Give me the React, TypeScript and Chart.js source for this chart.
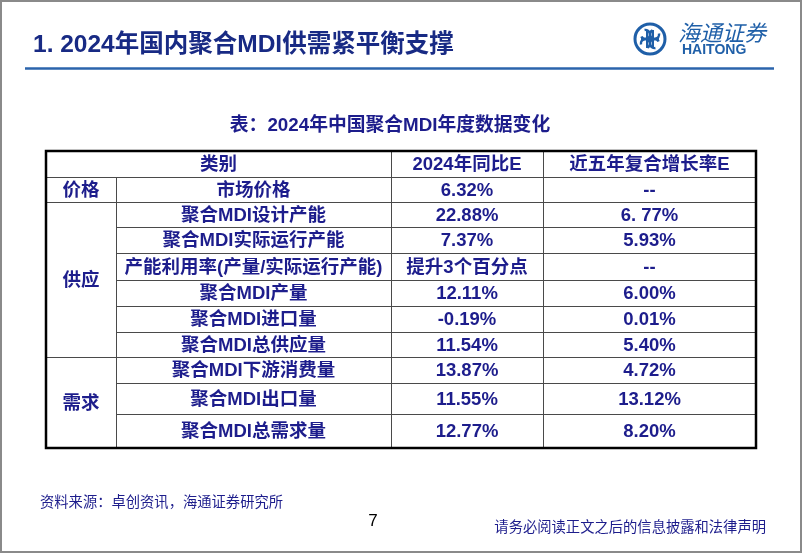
import React, { useEffect, useRef } from "react";
import { Chart, registerables } from "chart.js";

Chart.register(...registerables);

// ---------- data ----------
const headers = ["类别", "2024年同比E", "近五年复合增长率E"];
const groups = ["价格", "供应", "需求"];
const groupSpans = [1, 6, 3];
const items = [
  "市场价格",
  "聚合MDI设计产能",
  "聚合MDI实际运行产能",
  "产能利用率(产量/实际运行产能)",
  "聚合MDI产量",
  "聚合MDI进口量",
  "聚合MDI总供应量",
  "聚合MDI下游消费量",
  "聚合MDI出口量",
  "聚合MDI总需求量",
];
const yoy2024 = ["6.32%", "22.88%", "7.37%", "提升3个百分点", "12.11%", "-0.19%", "11.54%", "13.87%", "11.55%", "12.77%"];
const cagr5y = ["--", "6. 77%", "5.93%", "--", "6.00%", "0.01%", "5.40%", "4.72%", "13.12%", "8.20%"];

const pageTitle = "1. 2024年国内聚合MDI供需紧平衡支撑";
const tableCaption = "表：2024年中国聚合MDI年度数据变化";
const sourceNote = "资料来源：卓创资讯，海通证券研究所";
const pageNumber = "7";
const disclaimer = "请务必阅读正文之后的信息披露和法律声明";

// ---------- layout ----------
const COL_W = [70, 275, 152, 213];
const ROW_H = [26, 25, 25, 26, 27, 26, 26, 25, 26, 31, 34];
const cum = (a: number[]) => a.reduce((acc: number[], v) => { acc.push(acc[acc.length - 1] + v); return acc; }, [0]);
const colEdges = cum(COL_W);
const rowEdges = cum(ROW_H);
const rowMid = (i: number) => (rowEdges[i] + rowEdges[i + 1]) / 2;
const colMid = (i: number) => (colEdges[i] + colEdges[i + 1]) / 2;

const NAVY = "#1d1d8c";
const FONT = '"Liberation Sans", Arial, "Noto Sans CJK SC", sans-serif';

type Cell = { x: number; y: number; text: string };

function buildCells(): Cell[] {
  const cells: Cell[] = [];
  cells.push({ x: (colEdges[0] + colEdges[2]) / 2, y: rowMid(0), text: headers[0] });
  cells.push({ x: colMid(2), y: rowMid(0), text: headers[1] });
  cells.push({ x: colMid(3), y: rowMid(0), text: headers[2] });
  let start = 1;
  groups.forEach((g, gi) => {
    const span = groupSpans[gi];
    cells.push({ x: colMid(0), y: (rowEdges[start] + rowEdges[start + span]) / 2, text: g });
    start += span;
  });
  items.forEach((it, i) => {
    cells.push({ x: colMid(1), y: rowMid(i + 1), text: it });
    cells.push({ x: colMid(2), y: rowMid(i + 1), text: yoy2024[i] });
    cells.push({ x: colMid(3), y: rowMid(i + 1), text: cagr5y[i] });
  });
  return cells;
}

const tablePlugin = {
  id: "tableDraw",
  afterDatasetsDraw(chart: any) {
    const ctx: CanvasRenderingContext2D = chart.ctx;
    const xs = chart.scales.x;
    const ys = chart.scales.y;
    const px = (v: number) => xs.getPixelForValue(v);
    const py = (v: number) => ys.getPixelForValue(v);
    ctx.save();
    ctx.strokeStyle = "#4a4a4a";
    ctx.lineWidth = 1;
    const groupBounds = new Set<number>();
    let s = 1;
    groupBounds.add(1);
    groupSpans.forEach((sp) => { s += sp; groupBounds.add(s); });
    for (let r = 1; r < rowEdges.length - 1; r++) {
      const y = Math.round(py(rowEdges[r])) + 0.5;
      const x0 = groupBounds.has(r) ? px(colEdges[0]) : px(colEdges[1]);
      ctx.beginPath();
      ctx.moveTo(x0, y);
      ctx.lineTo(px(colEdges[4]), y);
      ctx.stroke();
    }
    for (let c = 1; c < colEdges.length - 1; c++) {
      const x = Math.round(px(colEdges[c])) + 0.5;
      const y0 = c === 1 ? py(rowEdges[1]) : py(rowEdges[0]);
      ctx.beginPath();
      ctx.moveTo(x, y0);
      ctx.lineTo(x, py(rowEdges[rowEdges.length - 1]));
      ctx.stroke();
    }
    ctx.strokeStyle = "#000";
    ctx.lineWidth = 2.5;
    const L = px(colEdges[0]), R = px(colEdges[4]), T = py(rowEdges[0]), B = py(rowEdges[rowEdges.length - 1]);
    ctx.strokeRect(L, T, R - L, B - T);
    const meta = chart.getDatasetMeta(0);
    const data = chart.data.datasets[0].data as Cell[];
    ctx.fillStyle = NAVY;
    ctx.textAlign = "center";
    ctx.textBaseline = "middle";
    ctx.font = `bold 18.5px ${FONT}`;
    meta.data.forEach((pt: any, i: number) => {
      ctx.fillText(data[i].text, pt.x, pt.y + 1);
    });
    ctx.restore();
  },
};

const pagePlugin = {
  id: "pageDecor",
  beforeDraw(chart: any) {
    const ctx: CanvasRenderingContext2D = chart.ctx;
    const W = chart.width, H = chart.height;
    ctx.save();
    ctx.fillStyle = "#fff";
    ctx.fillRect(0, 0, W, H);
    ctx.strokeStyle = "#8a8a8a";
    ctx.lineWidth = 2;
    ctx.strokeRect(1, 1, W - 2, H - 3);
    ctx.restore();
  },
  afterDraw(chart: any) {
    const ctx: CanvasRenderingContext2D = chart.ctx;
    ctx.save();
    // title
    ctx.fillStyle = "#182a84";
    ctx.textAlign = "left";
    ctx.textBaseline = "middle";
    ctx.font = `bold 24.5px ${FONT}`;
    ctx.fillText(pageTitle, 33, 45);
    // underline
    ctx.strokeStyle = "#2b64ac";
    ctx.lineWidth = 2.5;
    ctx.beginPath();
    ctx.moveTo(25, 68.5);
    ctx.lineTo(774, 68.5);
    ctx.stroke();
    // logo
    const cx = 650, cy = 39, r = 15;
    ctx.strokeStyle = "#1f5fa8";
    ctx.fillStyle = "#1f5fa8";
    ctx.lineWidth = 3;
    ctx.beginPath();
    ctx.arc(cx, cy, r, 0, Math.PI * 2);
    ctx.stroke();
    ctx.lineWidth = 2.5;
    for (let k = 0; k < 4; k++) {
      const a = (Math.PI / 2) * k + Math.PI / 4;
      ctx.beginPath();
      ctx.arc(cx + Math.cos(a) * 6.5, cy + Math.sin(a) * 6.5, 4.5, a + 0.6, a + Math.PI * 1.6);
      ctx.stroke();
    }
    ctx.lineWidth = 2;
    ctx.beginPath();
    ctx.moveTo(cx - 3, cy - 9); ctx.lineTo(cx - 3, cy + 9);
    ctx.moveTo(cx + 3, cy - 9); ctx.lineTo(cx + 3, cy + 9);
    ctx.moveTo(cx - 9, cy); ctx.lineTo(cx + 9, cy);
    ctx.stroke();
    ctx.textAlign = "left";
    ctx.font = `italic 22px "Noto Sans CJK SC", sans-serif`;
    ctx.fillText("海通证券", 678, 33);
    ctx.font = `bold 14px "Liberation Sans", Arial, sans-serif`;
    ctx.fillText("HAITONG", 682, 50);
    // caption
    ctx.fillStyle = NAVY;
    ctx.textAlign = "center";
    ctx.font = `bold 18.8px ${FONT}`;
    ctx.fillText(tableCaption, 390, 126);
    // footer
    ctx.textAlign = "left";
    ctx.font = `14.3px "Noto Sans CJK SC", sans-serif`;
    ctx.fillText(sourceNote, 40, 502);
    ctx.textAlign = "right";
    ctx.font = `14.3px "Noto Sans CJK SC", sans-serif`;
    ctx.fillText(disclaimer, 766, 527);
    ctx.fillStyle = "#000";
    ctx.textAlign = "center";
    ctx.font = `17px "Liberation Sans", Arial, sans-serif`;
    ctx.fillText(pageNumber, 373, 521);
    ctx.restore();
  },
};

export default function App() {
  const ref = useRef<HTMLCanvasElement | null>(null);
  useEffect(() => {
    if (!ref.current) return;
    const chart = new Chart(ref.current, {
      type: "scatter",
      data: {
        datasets: [
          {
            data: buildCells() as any,
            pointRadius: 0,
            pointHoverRadius: 0,
            showLine: false,
          },
        ],
      },
      options: {
        animation: false,
        responsive: false,
        events: [],
        layout: { padding: { left: 46, top: 151, right: 46, bottom: 106 } },
        scales: {
          x: { type: "linear", min: 0, max: colEdges[colEdges.length - 1], display: false },
          y: { type: "linear", min: 0, max: rowEdges[rowEdges.length - 1], reverse: true, display: false },
        },
        plugins: { legend: { display: false }, tooltip: { enabled: false }, title: { display: false } },
      },
      plugins: [pagePlugin, tablePlugin],
    });
    return () => chart.destroy();
  }, []);
  return (
    <div style={{ position: "absolute", left: 0, top: 0 }}>
      <canvas ref={ref} width={802} height={554} style={{ display: "block" }} />
    </div>
  );
}
